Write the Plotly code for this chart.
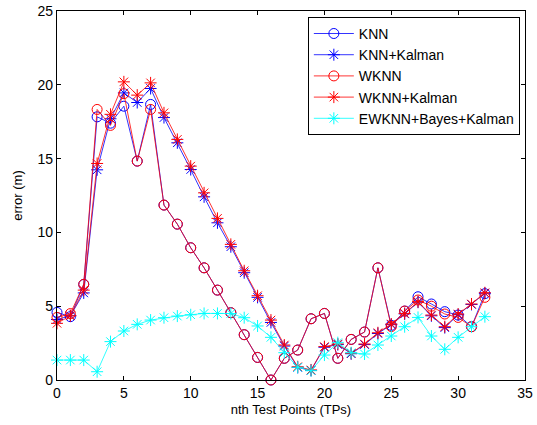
import plotly.graph_objects as go

x_points = list(range(33))

knn = [4.58, 4.29, 6.48, 17.83, 17.4, 18.55, 14.83, 18.67, 11.85, 10.56, 8.96, 7.6, 6.09, 4.56, 3.07, 1.53, 0.0,
       1.47, 2.03, 4.15, 4.51, 1.47, 2.75, 3.25, 7.6, 3.7, 4.67, 5.64, 5.15, 4.63, 4.4, 3.61, 5.85]
knn_kalman = [4.1, 4.35, 5.9, 14.24, 17.7, 19.45, 18.8, 19.75, 17.78, 16.07, 14.26, 12.41, 10.65, 9.03, 7.27, 5.6, 3.9,
              2.3, 0.85, 0.65, 2.22, 2.4, 1.78, 2.4, 3.15, 3.75, 4.48, 5.27, 4.35, 3.55, 4.42, 5.12, 5.88]
wknn = [4.24, 4.5, 6.48, 18.33, 17.25, 19.4, 14.83, 18.33, 11.85, 10.56, 8.96, 7.6, 6.09, 4.56, 3.07, 1.53, 0.0,
        1.47, 2.03, 4.15, 4.51, 1.47, 2.75, 3.25, 7.6, 3.62, 4.67, 5.42, 5.0, 4.47, 4.24, 3.61, 5.6]
wknn_kalman = [3.84, 4.35, 6.09, 14.67, 18.0, 20.2, 19.3, 20.13, 18.1, 16.3, 14.49, 12.68, 10.95, 9.19, 7.4, 5.71, 4.06,
               2.37, 0.9, 0.68, 2.26, 2.44, 1.81, 2.44, 3.2, 3.79, 4.51, 5.3, 4.4, 3.61, 4.47, 5.15, 5.91]
ewknn = [1.35, 1.35, 1.35, 0.56, 2.6, 3.32, 3.77, 4.06, 4.22, 4.33, 4.42, 4.51, 4.51, 4.5, 4.22, 3.66, 2.89,
         1.85, 0.86, 0.63, 1.69, 2.53, 1.85, 1.76, 2.37, 2.98, 3.61, 4.24, 2.98, 2.08, 2.89, 3.61, 4.29]

series = [
    ("KNN", knn, "#0000ff", "circle-open", 10),
    ("KNN+Kalman", knn_kalman, "#0000ff", "asterisk-open", 10),
    ("WKNN", wknn, "#ff0000", "circle-open", 10),
    ("WKNN+Kalman", wknn_kalman, "#ff0000", "asterisk-open", 10),
    ("EWKNN+Bayes+Kalman", ewknn, "#00ffff", "asterisk-open", 10),
]

fig = go.Figure()
for name, vals, color, sym, size in series:
    fig.add_trace(go.Scatter(
        x=x_points, y=vals, name=name, mode="lines+markers",
        line=dict(color=color, width=0.8),
        marker=dict(symbol=sym, size=size, color=color, line=dict(color=color, width=1)),
        cliponaxis=False,
    ))

axis_common = dict(
    showline=True, linecolor="black", linewidth=1.2, mirror="ticks",
    ticks="inside", ticklen=4, tickcolor="black", showgrid=False, zeroline=False,
    automargin=False,
    tickfont=dict(family="Liberation Sans, Arial, sans-serif", size=14, color="black"),
)

fig.update_layout(
    width=537, height=425,
    margin=dict(l=57, r=12, t=11, b=45),
    paper_bgcolor="white", plot_bgcolor="white",
    font=dict(family="Liberation Sans, Arial, sans-serif", size=13, color="black"),
    xaxis=dict(range=[0, 35], tickvals=[0, 5, 10, 15, 20, 25, 30, 35],
               title=dict(text="nth Test Points (TPs)", standoff=4,
                          font=dict(size=13)), **axis_common),
    yaxis=dict(range=[0, 25], tickvals=[0, 5, 10, 15, 20, 25],
               title=dict(text="error (m)", standoff=11, font=dict(size=13)), **axis_common),
    legend=dict(x=0.989, y=0.984, xanchor="right", yanchor="top",
                bgcolor="white", bordercolor="black", borderwidth=1,
                font=dict(size=14), tracegroupgap=0, itemwidth=40),
    showlegend=True,
)

fig.write_html("out.html", config={"displayModeBar": False},
               post_script="document.body.style.margin='0';")
